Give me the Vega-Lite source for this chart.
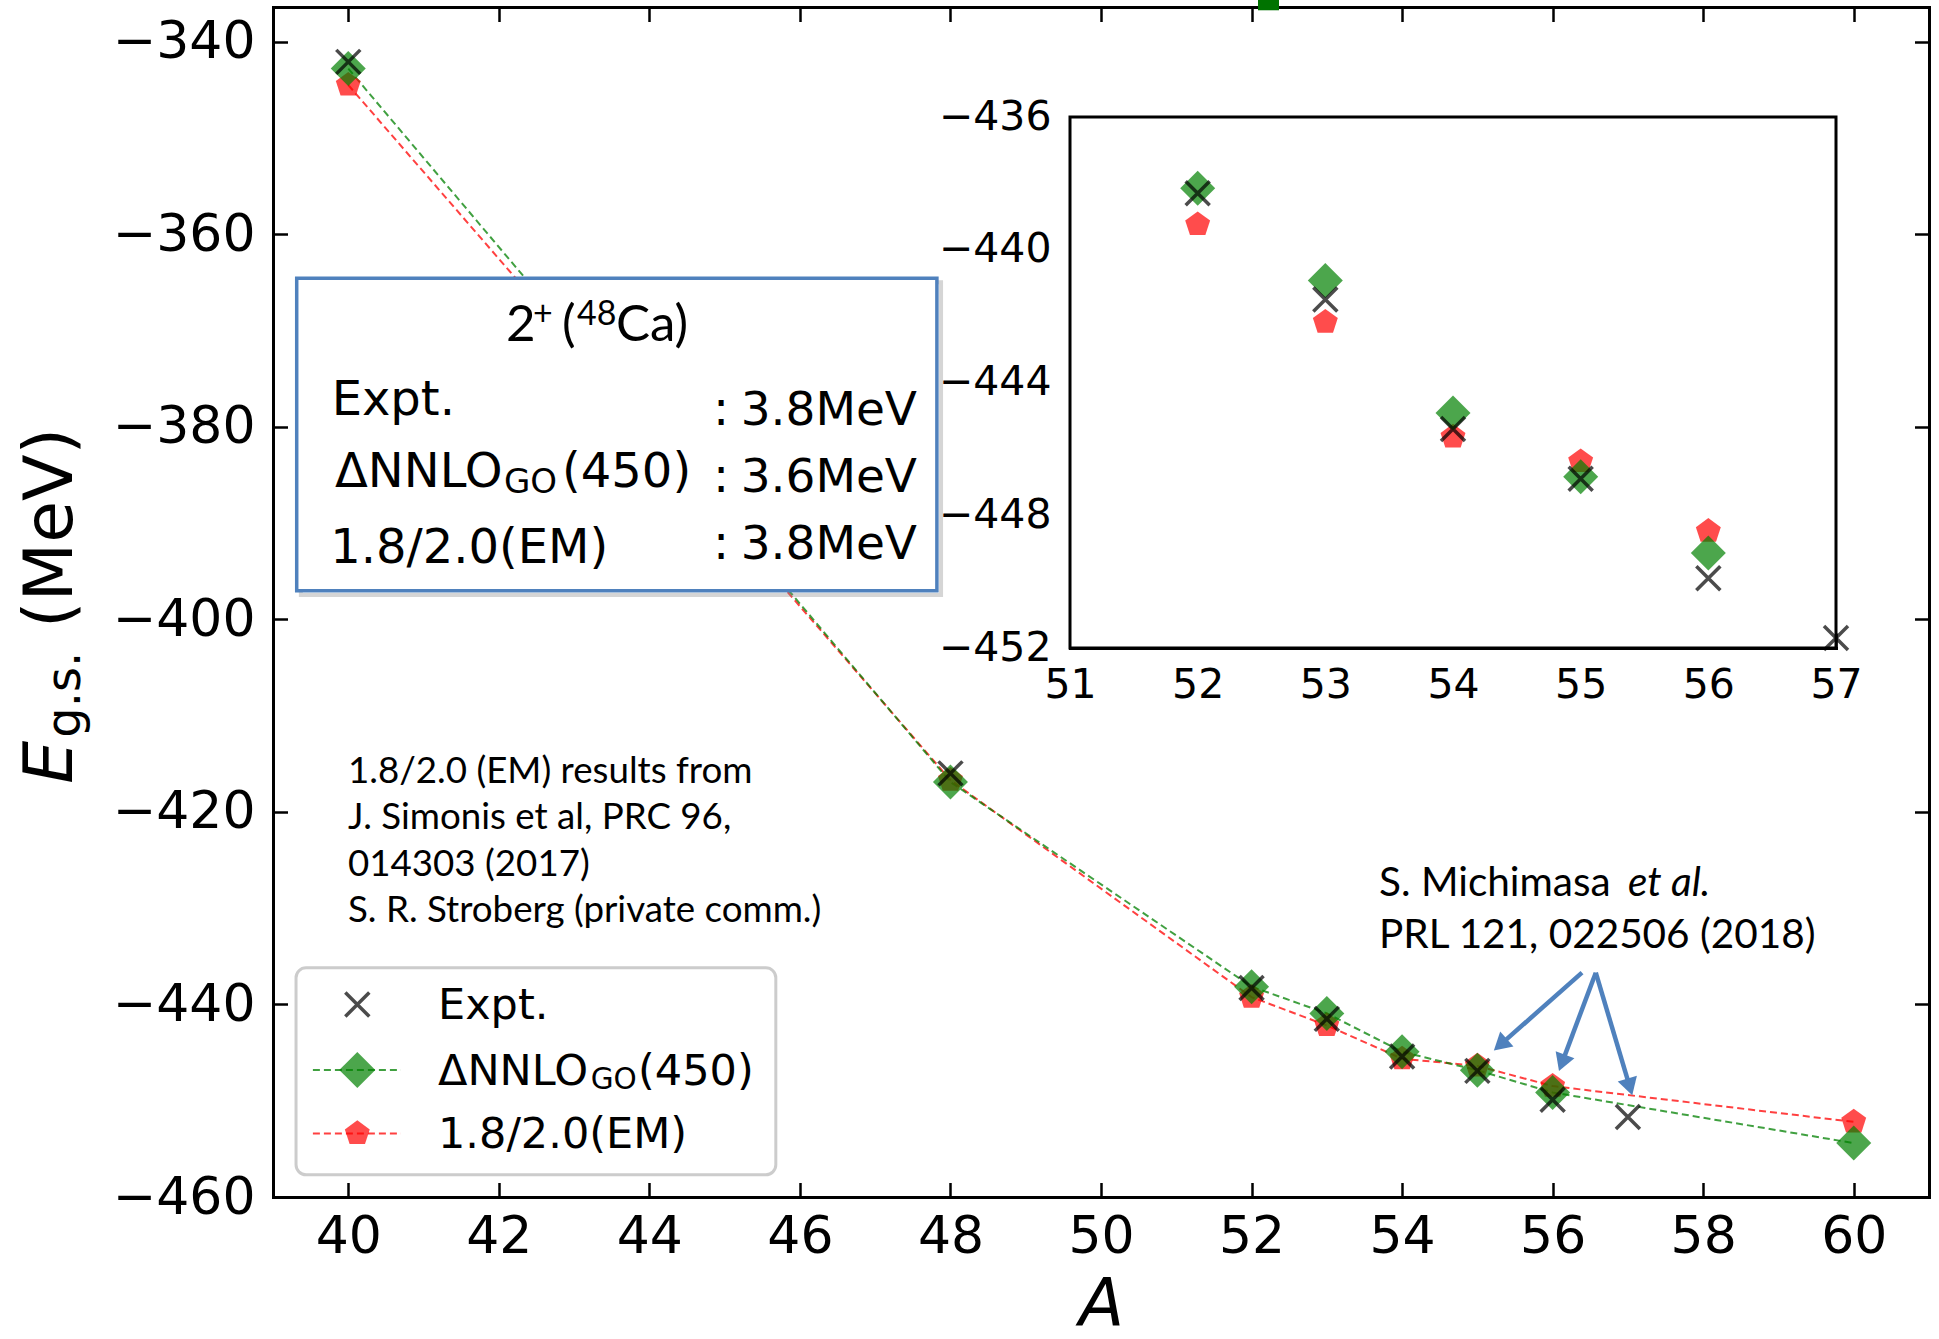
{
  "$schema": "https://vega.github.io/schema/vega-lite/v6.json",
  "width": 1656,
  "height": 1190,
  "autosize": "none",
  "padding": {"left": 273, "top": 7, "right": 10, "bottom": 142},
  "background": "white",
  "config": {"view": {"stroke": null}},
  "datasets": {
    "expt": [
      {"A": 40, "E": -342.1}, {"A": 48, "E": -416.0}, {"A": 52, "E": -438.3}, {"A": 53, "E": -441.5},
      {"A": 54, "E": -445.4}, {"A": 55, "E": -446.9}, {"A": 56, "E": -449.9}, {"A": 57, "E": -451.7}
    ],
    "nnlo": [
      {"A": 40, "E": -342.8}, {"A": 48, "E": -416.9}, {"A": 52, "E": -438.15}, {"A": 53, "E": -440.93},
      {"A": 54, "E": -444.92}, {"A": 55, "E": -446.84}, {"A": 56, "E": -449.14}, {"A": 60, "E": -454.4}
    ],
    "em": [
      {"A": 40, "E": -344.5}, {"A": 48, "E": -416.7}, {"A": 52, "E": -439.24}, {"A": 53, "E": -442.18},
      {"A": 54, "E": -445.64}, {"A": 55, "E": -446.38}, {"A": 56, "E": -448.48}, {"A": 60, "E": -452.2}
    ]
  },
  "layer": [
    {
      "layer": [
        {
          "data": {"name": "em"},
          "mark": {"type": "line", "color": "red", "opacity": 0.75, "strokeWidth": 2, "strokeDash": [7, 4]},
          "encoding": {
            "x": {"field": "A", "type": "quantitative",
              "scale": {"domain": [39, 61], "nice": false, "zero": false},
              "axis": {"orient": "bottom", "values": [40, 42, 44, 46, 48, 50, 52, 54, 56, 58, 60], "format": "d", "grid": false,
                "tickSize": -14.5, "tickWidth": 2.5, "tickColor": "black", "domainColor": "black", "domainWidth": 3, "domainCap": "square",
                "labelFont": "DejaVu Sans", "labelFontSize": 52, "labelColor": "black", "labelPadding": 29, "labelFlush": false, "labelOverlap": false,
                "title": "A", "titleFont": "DejaVu Sans", "titleFontSize": 66, "titleFontStyle": "italic", "titleFontWeight": "normal", "titleColor": "black", "titlePadding": 10}},
            "y": {"field": "E", "type": "quantitative",
              "scale": {"domain": [-460, -336.4], "nice": false, "zero": false},
              "axis": {"orient": "left", "values": [-460, -440, -420, -400, -380, -360, -340], "format": "d", "grid": false,
                "tickSize": -14.5, "tickWidth": 2.5, "tickColor": "black", "domainColor": "black", "domainWidth": 3, "domainCap": "square",
                "labelFont": "DejaVu Sans", "labelFontSize": 52, "labelColor": "black", "labelPadding": 32.5, "labelFlush": false, "labelOverlap": false,
                "title": null}}
          }
        },
        {
          "data": {"name": "nnlo"},
          "mark": {"type": "line", "color": "green", "opacity": 0.75, "strokeWidth": 2, "strokeDash": [7, 4]},
          "encoding": {"x": {"field": "A", "type": "quantitative"}, "y": {"field": "E", "type": "quantitative"}}
        },
        {
          "data": {"name": "em"},
          "mark": {"type": "point", "shape": "M0,-1L0.951,-0.309L0.588,0.809L-0.588,0.809L-0.951,-0.309Z", "filled": true, "color": "red", "opacity": 0.7, "size": 686, "strokeWidth": 0},
          "encoding": {"x": {"field": "A", "type": "quantitative"}, "y": {"field": "E", "type": "quantitative"}}
        },
        {
          "data": {"name": "nnlo"},
          "mark": {"type": "point", "shape": "diamond", "filled": true, "color": "green", "opacity": 0.7, "size": 1225, "strokeWidth": 0},
          "encoding": {"x": {"field": "A", "type": "quantitative"}, "y": {"field": "E", "type": "quantitative"}}
        },
        {
          "data": {"name": "expt"},
          "mark": {"type": "point", "shape": "M-1,-1L1,1M-1,1L1,-1", "filled": false, "color": "black", "opacity": 0.7, "size": 576, "strokeWidth": 3.5},
          "encoding": {"x": {"field": "A", "type": "quantitative"}, "y": {"field": "E", "type": "quantitative"}}
        },
        {
          "data": {"values": [{}]},
          "mark": {"type": "rect", "fill": null, "stroke": "#888888", "strokeOpacity": 0.35, "strokeWidth": 4},
          "encoding": {"x": {"datum": 39.37}, "x2": {"datum": 47.875}, "y": {"datum": -364.99}, "y2": {"datum": -397.46}}
        },
        {
          "data": {"values": [{}]},
          "mark": {"type": "rect", "fill": "white", "stroke": "#4f81bd", "strokeWidth": 3.5},
          "encoding": {"x": {"datum": 39.315}, "x2": {"datum": 47.82}, "y": {"datum": -364.57}, "y2": {"datum": -397.04}}
        },
        {"data": {"values": [{}]}, "mark": {"type": "text", "text": "2", "font": "Lato", "fontSize": 51, "align": "left", "baseline": "alphabetic", "color": "black"},
          "encoding": {"x": {"datum": 42.0955}, "y": {"datum": -371.06}}},
        {"data": {"values": [{}]}, "mark": {"type": "text", "text": "+", "font": "Lato", "fontSize": 34, "align": "left", "baseline": "alphabetic", "color": "black"},
          "encoding": {"x": {"datum": 42.454}, "y": {"datum": -369.39}}},
        {"data": {"values": [{}]}, "mark": {"type": "text", "text": "(", "font": "Lato", "fontSize": 51, "align": "left", "baseline": "alphabetic", "color": "black"},
          "encoding": {"x": {"datum": 42.839}, "y": {"datum": -371.06}}},
        {"data": {"values": [{}]}, "mark": {"type": "text", "text": "48", "font": "Lato", "fontSize": 34, "align": "left", "baseline": "alphabetic", "color": "black"},
          "encoding": {"x": {"datum": 43.039}, "y": {"datum": -369.39}}},
        {"data": {"values": [{}]}, "mark": {"type": "text", "text": "Ca)", "font": "Lato", "fontSize": 51, "align": "left", "baseline": "alphabetic", "color": "black"},
          "encoding": {"x": {"datum": 43.557}, "y": {"datum": -371.06}}},
        {"data": {"values": [{}]}, "mark": {"type": "text", "text": "Expt.", "font": "DejaVu Sans", "fontSize": 48, "align": "left", "baseline": "alphabetic", "color": "black"},
          "encoding": {"x": {"datum": 39.779}, "y": {"datum": -378.74}}},
        {"data": {"values": [{}]}, "mark": {"type": "text", "text": "ΔNNLO", "font": "DejaVu Sans", "fontSize": 48, "align": "left", "baseline": "alphabetic", "color": "black"},
          "encoding": {"x": {"datum": 39.824}, "y": {"datum": -386.27}}},
        {"data": {"values": [{}]}, "mark": {"type": "text", "text": "GO", "font": "DejaVu Sans", "fontSize": 34, "align": "left", "baseline": "alphabetic", "color": "black"},
          "encoding": {"x": {"datum": 42.069}, "y": {"datum": -386.84}}},
        {"data": {"values": [{}]}, "mark": {"type": "text", "text": "(450)", "font": "DejaVu Sans", "fontSize": 48, "align": "left", "baseline": "alphabetic", "color": "black"},
          "encoding": {"x": {"datum": 42.84}, "y": {"datum": -386.27}}},
        {"data": {"values": [{}]}, "mark": {"type": "text", "text": "1.8/2.0(EM)", "font": "DejaVu Sans", "fontSize": 48, "align": "left", "baseline": "alphabetic", "color": "black"},
          "encoding": {"x": {"datum": 39.76}, "y": {"datum": -394.2}}},
        {"data": {"values": [{}]}, "mark": {"type": "text", "text": ":", "font": "DejaVu Sans", "fontSize": 48, "align": "left", "baseline": "alphabetic", "color": "black"},
          "encoding": {"x": {"datum": 44.846}, "y": {"datum": -379.78}}},
        {"data": {"values": [{}]}, "mark": {"type": "text", "text": ":", "font": "DejaVu Sans", "fontSize": 48, "align": "left", "baseline": "alphabetic", "color": "black"},
          "encoding": {"x": {"datum": 44.846}, "y": {"datum": -386.82}}},
        {"data": {"values": [{}]}, "mark": {"type": "text", "text": ":", "font": "DejaVu Sans", "fontSize": 48, "align": "left", "baseline": "alphabetic", "color": "black"},
          "encoding": {"x": {"datum": 44.846}, "y": {"datum": -393.73}}},
        {"data": {"values": [{}]}, "mark": {"type": "text", "text": "3.8MeV", "font": "DejaVu Sans", "fontSize": 47, "align": "right", "baseline": "alphabetic", "color": "black"},
          "encoding": {"x": {"datum": 47.556}, "y": {"datum": -379.78}}},
        {"data": {"values": [{}]}, "mark": {"type": "text", "text": "3.6MeV", "font": "DejaVu Sans", "fontSize": 47, "align": "right", "baseline": "alphabetic", "color": "black"},
          "encoding": {"x": {"datum": 47.556}, "y": {"datum": -386.82}}},
        {"data": {"values": [{}]}, "mark": {"type": "text", "text": "3.8MeV", "font": "DejaVu Sans", "fontSize": 47, "align": "right", "baseline": "alphabetic", "color": "black"},
          "encoding": {"x": {"datum": 47.556}, "y": {"datum": -393.73}}},
        {"data": {"values": [{}]}, "mark": {"type": "text", "text": ["1.8/2.0 (EM) results from", "J. Simonis et al,  PRC 96,", "014303 (2017)", "S. R. Stroberg (private comm.)"], "font": "Lato", "fontSize": 36.7, "lineHeight": 46.5, "align": "left", "baseline": "alphabetic", "color": "black"},
          "encoding": {"x": {"datum": 39.996}, "y": {"datum": -416.96}}},
        {"data": {"values": [{}]}, "mark": {"type": "text", "text": "S. Michimasa", "font": "Lato", "fontSize": 40.5, "align": "left", "baseline": "alphabetic", "color": "black"},
          "encoding": {"x": {"datum": 53.693}, "y": {"datum": -428.76}}},
        {"data": {"values": [{}]}, "mark": {"type": "text", "text": "et al.", "font": "Lato", "fontStyle": "italic", "fontSize": 40.5, "align": "left", "baseline": "alphabetic", "color": "black"},
          "encoding": {"x": {"datum": 57.0}, "y": {"datum": -428.76}}},
        {"data": {"values": [{}]}, "mark": {"type": "text", "text": "PRL 121, 022506 (2018)", "font": "Lato", "fontSize": 40.5, "align": "left", "baseline": "alphabetic", "color": "black"},
          "encoding": {"x": {"datum": 53.693}, "y": {"datum": -434.1}}},
        {"data": {"values": [{}]}, "mark": {"type": "rule", "color": "#4f81bd", "strokeWidth": 4.5},
          "encoding": {"x": {"datum": 56.39}, "y": {"datum": -436.7}, "x2": {"datum": 55.334}, "y2": {"datum": -443.99}}},
        {"data": {"values": [{}]}, "mark": {"type": "rule", "color": "#4f81bd", "strokeWidth": 4.5},
          "encoding": {"x": {"datum": 56.573}, "y": {"datum": -436.7}, "x2": {"datum": 56.138}, "y2": {"datum": -445.78}}},
        {"data": {"values": [{}]}, "mark": {"type": "rule", "color": "#4f81bd", "strokeWidth": 4.5},
          "encoding": {"x": {"datum": 56.573}, "y": {"datum": -436.7}, "x2": {"datum": 57.014}, "y2": {"datum": -448.27}}},
        {"data": {"values": [{}]}, "mark": {"type": "point", "shape": "triangle", "filled": true, "color": "#4f81bd", "opacity": 1, "size": 400, "angle": 228.5},
          "encoding": {"x": {"datum": 55.334}, "y": {"datum": -443.99}}},
        {"data": {"values": [{}]}, "mark": {"type": "point", "shape": "triangle", "filled": true, "color": "#4f81bd", "opacity": 1, "size": 400, "angle": 200.5},
          "encoding": {"x": {"datum": 56.138}, "y": {"datum": -445.78}}},
        {"data": {"values": [{}]}, "mark": {"type": "point", "shape": "triangle", "filled": true, "color": "#4f81bd", "opacity": 1, "size": 400, "angle": 163.4},
          "encoding": {"x": {"datum": 57.014}, "y": {"datum": -448.27}}},
        {"data": {"values": [{}]}, "mark": {"type": "rect", "fill": "white", "fillOpacity": 0.8, "stroke": "#cccccc", "strokeWidth": 3, "cornerRadius": 10},
          "encoding": {"x": {"datum": 39.306}, "x2": {"datum": 45.68}, "y": {"datum": -436.2}, "y2": {"datum": -457.7}}},
        {"data": {"values": [{}]}, "mark": {"type": "point", "shape": "M-1,-1L1,1M-1,1L1,-1", "filled": false, "color": "black", "opacity": 0.7, "size": 576, "strokeWidth": 3.5},
          "encoding": {"x": {"datum": 40.12}, "y": {"datum": -440.0}}},
        {"data": {"values": [{}]}, "mark": {"type": "rule", "color": "green", "opacity": 0.75, "strokeWidth": 2, "strokeDash": [7, 4]},
          "encoding": {"x": {"datum": 39.53}, "x2": {"datum": 40.7}, "y": {"datum": -446.8}}},
        {"data": {"values": [{}]}, "mark": {"type": "point", "shape": "diamond", "filled": true, "color": "green", "opacity": 0.7, "size": 1300, "strokeWidth": 0},
          "encoding": {"x": {"datum": 40.12}, "y": {"datum": -446.8}}},
        {"data": {"values": [{}]}, "mark": {"type": "rule", "color": "red", "opacity": 0.75, "strokeWidth": 2, "strokeDash": [7, 4]},
          "encoding": {"x": {"datum": 39.53}, "x2": {"datum": 40.7}, "y": {"datum": -453.4}}},
        {"data": {"values": [{}]}, "mark": {"type": "point", "shape": "M0,-1L0.951,-0.309L0.588,0.809L-0.588,0.809L-0.951,-0.309Z", "filled": true, "color": "red", "opacity": 0.7, "size": 686, "strokeWidth": 0},
          "encoding": {"x": {"datum": 40.12}, "y": {"datum": -453.4}}},
        {"data": {"values": [{}]}, "mark": {"type": "text", "text": "Expt.", "font": "DejaVu Sans", "fontSize": 43, "align": "left", "baseline": "alphabetic", "color": "black"},
          "encoding": {"x": {"datum": 41.192}, "y": {"datum": -441.56}}},
        {"data": {"values": [{}]}, "mark": {"type": "text", "text": "ΔNNLO", "font": "DejaVu Sans", "fontSize": 43, "align": "left", "baseline": "alphabetic", "color": "black"},
          "encoding": {"x": {"datum": 41.192}, "y": {"datum": -448.4}}},
        {"data": {"values": [{}]}, "mark": {"type": "text", "text": "GO", "font": "DejaVu Sans", "fontSize": 29.5, "align": "left", "baseline": "alphabetic", "color": "black"},
          "encoding": {"x": {"datum": 43.22}, "y": {"datum": -448.83}}},
        {"data": {"values": [{}]}, "mark": {"type": "text", "text": "(450)", "font": "DejaVu Sans", "fontSize": 43, "align": "left", "baseline": "alphabetic", "color": "black"},
          "encoding": {"x": {"datum": 43.85}, "y": {"datum": -448.4}}},
        {"data": {"values": [{}]}, "mark": {"type": "text", "text": "1.8/2.0(EM)", "font": "DejaVu Sans", "fontSize": 43, "align": "left", "baseline": "alphabetic", "color": "black"},
          "encoding": {"x": {"datum": 41.192}, "y": {"datum": -454.96}}},
        {"data": {"values": [{}]}, "mark": {"type": "text", "text": "E", "font": "DejaVu Sans", "fontStyle": "italic", "fontSize": 68, "angle": 270, "align": "left", "baseline": "alphabetic", "color": "black"},
          "encoding": {"x": {"datum": 36.33}, "y": {"datum": -417.07}}},
        {"data": {"values": [{}]}, "mark": {"type": "text", "text": "g.s.", "font": "DejaVu Sans", "fontSize": 48, "angle": 270, "align": "left", "baseline": "alphabetic", "color": "black"},
          "encoding": {"x": {"datum": 36.436}, "y": {"datum": -412.29}}},
        {"data": {"values": [{}]}, "mark": {"type": "text", "text": "(MeV)", "font": "DejaVu Sans", "fontSize": 68, "angle": 270, "align": "left", "baseline": "alphabetic", "color": "black"},
          "encoding": {"x": {"datum": 36.33}, "y": {"datum": -400.9}}},
        {"data": {"values": [{}]}, "mark": {"type": "point", "shape": "square", "filled": true, "color": "#007300", "opacity": 1, "size": 441, "strokeWidth": 0},
          "encoding": {"x": {"datum": 52.225}, "y": {"datum": -335.65}}}
      ]
    },
    {
      "data": {"name": "expt"},
      "mark": {"type": "point", "opacity": 0},
      "encoding": {
        "x": {"field": "A", "type": "quantitative",
          "scale": {"domain": [39, 61], "nice": false, "zero": false},
          "axis": {"orient": "top", "values": [40, 42, 44, 46, 48, 50, 52, 54, 56, 58, 60], "grid": false, "labels": false, "title": null,
            "tickSize": -14.5, "tickWidth": 2.5, "tickColor": "black", "domainColor": "black", "domainWidth": 3, "domainCap": "square"}},
        "y": {"field": "E", "type": "quantitative",
          "scale": {"domain": [-460, -336.4], "nice": false, "zero": false},
          "axis": {"orient": "right", "values": [-460, -440, -420, -400, -380, -360, -340], "grid": false, "labels": false, "title": null,
            "tickSize": -14.5, "tickWidth": 2.5, "tickColor": "black", "domainColor": "black", "domainWidth": 3, "domainCap": "square"}}
      }
    },
    {
      "layer": [
        {
          "data": {"values": [{}]},
          "mark": {"type": "rect", "fill": "white", "stroke": "black", "strokeWidth": 3},
          "encoding": {"x": {"datum": 51}, "x2": {"datum": 57}, "y": {"datum": -452}, "y2": {"datum": -436}}
        },
        {
          "data": {"name": "em"},
          "transform": [{"filter": "datum.A >= 51 && datum.A <= 57"}],
          "mark": {"type": "point", "shape": "M0,-1L0.951,-0.309L0.588,0.809L-0.588,0.809L-0.951,-0.309Z", "filled": true, "color": "red", "opacity": 0.7, "size": 686, "strokeWidth": 0},
          "encoding": {
            "x": {"field": "A", "type": "quantitative",
              "scale": {"domain": [51, 57], "range": [797, 1563], "nice": false, "zero": false},
              "axis": {"orient": "bottom", "offset": -549, "values": [51, 52, 53, 54, 55, 56, 57], "format": "d", "grid": false, "title": null,
                "tickSize": -15, "tickWidth": 2.5, "tickColor": "black", "domainColor": "black", "domainWidth": 3, "domainCap": "square",
                "labelFont": "DejaVu Sans", "labelFontSize": 41, "labelColor": "black", "labelPadding": 32, "labelFlush": false, "labelOverlap": false}},
            "y": {"field": "E", "type": "quantitative",
              "scale": {"domain": [-452, -436], "range": [641, 110], "nice": false, "zero": false},
              "axis": {"orient": "left", "offset": -797, "values": [-452, -448, -444, -440, -436], "format": "d", "grid": false, "title": null,
                "tickSize": -15, "tickWidth": 2.5, "tickColor": "black", "domainColor": "black", "domainWidth": 3, "domainCap": "square",
                "labelFont": "DejaVu Sans", "labelFontSize": 41, "labelColor": "black", "labelPadding": 34, "labelFlush": false, "labelOverlap": false}}
          }
        },
        {
          "data": {"name": "nnlo"},
          "transform": [{"filter": "datum.A >= 51 && datum.A <= 57"}],
          "mark": {"type": "point", "shape": "diamond", "filled": true, "color": "green", "opacity": 0.7, "size": 1225, "strokeWidth": 0},
          "encoding": {"x": {"field": "A", "type": "quantitative"}, "y": {"field": "E", "type": "quantitative"}}
        },
        {
          "data": {"name": "expt"},
          "transform": [{"filter": "datum.A >= 51 && datum.A <= 57"}],
          "mark": {"type": "point", "shape": "M-1,-1L1,1M-1,1L1,-1", "filled": false, "color": "black", "opacity": 0.7, "size": 576, "strokeWidth": 3.5},
          "encoding": {"x": {"field": "A", "type": "quantitative"}, "y": {"field": "E", "type": "quantitative"}}
        }
      ]
    }
  ],
  "resolve": {"scale": {"x": "independent", "y": "independent"}}
}
